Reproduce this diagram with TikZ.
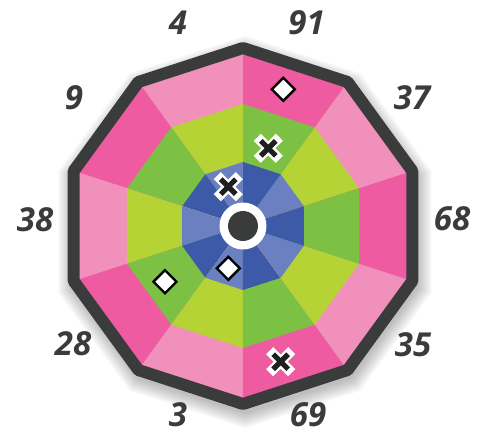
\documentclass[tikz,border=0pt]{standalone}
\usepackage{fontspec}
\setmainfont{Open Sans}
\usetikzlibrary{calc,shapes.geometric}
\definecolor{Ink}{RGB}{58,60,60}
\definecolor{DeepPink}{RGB}{238,91,160}
\definecolor{SoftPink}{RGB}{242,144,188}
\definecolor{Leaf}{RGB}{124,193,67}
\definecolor{Lime}{RGB}{181,211,52}
\definecolor{DeepBlue}{RGB}{61,90,169}
\definecolor{SoftBlue}{RGB}{107,128,193}
\tikzset{
  score/.style={font=\fontsize{33}{33}\selectfont\bfseries\itshape,text=Ink,inner sep=0pt},
  rim/.style={draw=Ink,line width=12pt,line join=round},
  hitd/.style={diamond,draw=black,line width=2.4pt,fill=white,minimum size=24pt,inner sep=0pt},
  hitx/.style={minimum size=30pt,inner sep=0pt,path picture={
    \draw[white,line width=10pt,line cap=rect]
      ($(path picture bounding box.center)+(-7.5pt,-7.5pt)$)--++(15pt,15pt)
      ($(path picture bounding box.center)+(-7.5pt,7.5pt)$)--++(15pt,-15pt);
    \draw[black!88,line width=5.2pt]
      ($(path picture bounding box.center)+(-7.5pt,-7.5pt)$)--++(15pt,15pt)
      ($(path picture bounding box.center)+(-7.5pt,7.5pt)$)--++(15pt,-15pt);
  }}
}
\begin{document}
\begin{tikzpicture}[x=1pt,y=1pt]
  \useasboundingbox (-243,-208) rectangle (234,226);
  % soft shadow
  \foreach \s in {1,...,8}
    \fill[black,opacity=.035,shift={(2,-6)}] (90:180+2*\s) \foreach \a in {126,162,...,414} {-- (\a:180+2*\s)} -- cycle;
  % rings, two shades each
  \foreach \a in {18,90,162,234,306} {
    \fill[SoftPink] (0,0) -- (\a:178) -- (\a+36:178) -- cycle;
    \fill[DeepPink] (0,0) -- (\a+36:178) -- (\a+72:178) -- cycle;
    \fill[Lime] (0,0) -- (\a:122) -- (\a+36:122) -- cycle;
    \fill[Leaf] (0,0) -- (\a+36:122) -- (\a+72:122) -- cycle;
    \fill[SoftBlue] (0,0) -- (\a:64) -- (\a+36:64) -- cycle;
    \fill[DeepBlue] (0,0) -- (\a+36:64) -- (\a+72:64) -- cycle;
  }
  \draw[rim] (90:178) \foreach \a in {126,162,...,414} {-- (\a:178)} -- cycle;
  \node[circle,fill=white,minimum size=47,inner sep=0pt] (bull) at (0,0) {};
  \node[circle,fill=Ink,minimum size=30,inner sep=0pt] (eye) at (bull) {};
  % scores
  \node[score] (s4) at (-65,203.5) {4};
  \node[score] (s91) at (63.5,203.5) {91};
  \node[score] (s37) at (169,128.5) {37};
  \node[score] (s68) at (209,7) {68};
  \node[score] (s35) at (170,-118.5) {35};
  \node[score] (s69) at (65,-189) {69};
  \node[score] (s3) at (-65,-189) {3};
  \node[score] (s28) at (-170,-117.5) {28};
  \node[score] (s38) at (-208,6) {38};
  \node[score] (s9) at (-169,128.5) {9};
  % hits
  \node[hitd] (d1) at (40.3,136.7) {};
  \node[hitd] (d2) at (-14.7,-42.3) {};
  \node[hitd] (d3) at (-78,-55.7) {};
  \node[hitx] (x1) at (25.3,77.7) {};
  \node[hitx] (x2) at (-14.7,39.3) {};
  \node[hitx] (x3) at (37.7,-135.7) {};
\end{tikzpicture}
\end{document}
